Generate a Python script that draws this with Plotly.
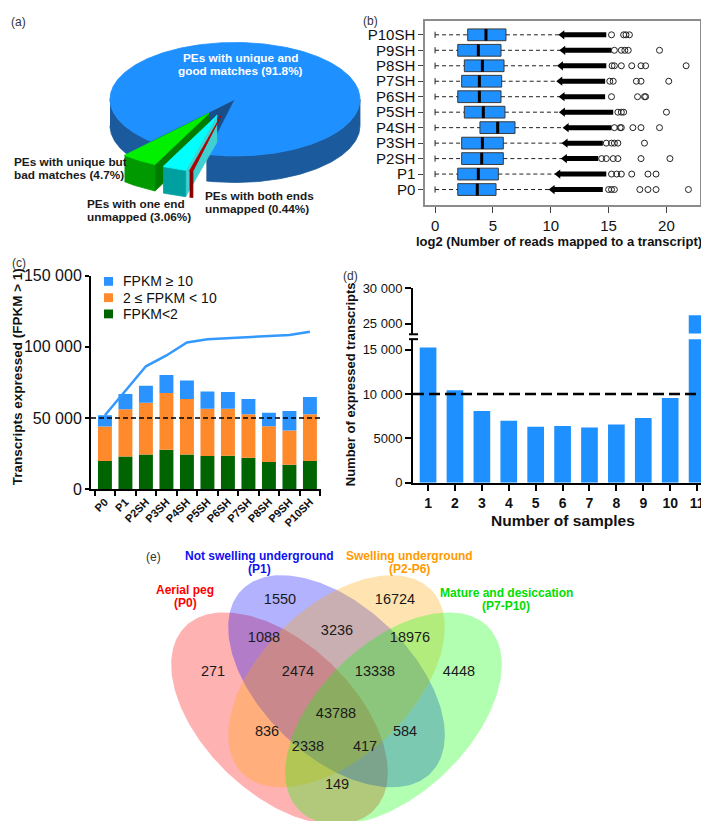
import numpy as np
import plotly.graph_objects as go

W, H = 709, 822
FONT = "Liberation Sans, Arial, sans-serif"

# (a) paired-end read mapping, percent
pie_labels = ["PEs with unique and<br>good matches", "PEs with unique but<br>bad matches",
              "PEs with one end<br>unmapped", "PEs with both ends<br>unmapped"]
pie_pct = [91.8, 4.7, 3.06, 0.44]

# (b) log2(number of reads mapped to a transcript), listed bottom to top
box_samples = ["P0", "P1", "P2SH", "P3SH", "P4SH", "P5SH", "P6SH", "P7SH", "P8SH", "P9SH", "P10SH"]
box_min = [0.0, 0.0, 0.0, 0.0, 0.0, 0.0, 0.0, 0.0, 0.0, 0.0, 0.0]
box_q1 = [1.96, 1.96, 2.30, 2.30, 3.88, 2.53, 1.96, 2.30, 2.53, 1.96, 2.82]
box_med = [3.65, 3.74, 4.03, 4.09, 5.41, 4.17, 3.83, 3.83, 4.09, 3.74, 4.40]
box_q3 = [5.27, 5.47, 5.90, 5.90, 6.91, 6.04, 5.70, 5.76, 5.96, 5.70, 6.13]
box_max = [10.16, 10.65, 11.22, 11.28, 11.37, 11.05, 11.02, 10.82, 10.88, 11.08, 11.00]
# outliers are so dense up to here that they merge into one black run
dense_to = [14.5, 14.8, 14.1, 14.5, 15.25, 15.4, 14.7, 14.7, 14.8, 15.25, 14.8]
outliers = [
    [15.0, 15.25, 15.5, 17.7, 18.4, 19.1, 21.9],   # P0
    [15.25, 15.7, 16.1, 17.0, 18.4, 19.1],         # P1
    [14.4, 14.8, 15.4, 15.8, 17.8, 20.3],          # P2SH
    [14.8, 15.25, 15.5, 15.8, 18.1],               # P3SH
    [15.5, 16.0, 16.1, 17.1, 17.8, 19.4],          # P4SH
    [15.8, 16.1, 16.3, 20.0],                      # P5SH
    [15.25, 17.5, 18.1, 18.2],                     # P6SH
    [15.1, 15.4, 17.4, 17.8, 20.2],                # P7SH
    [15.3, 15.5, 16.1, 17.0, 17.8, 18.2, 21.7],    # P8SH
    [15.5, 16.1, 16.4, 16.7, 19.4],                # P9SH
    [15.25, 16.3, 16.5, 16.8],                     # P10SH
]

# (c) transcripts expressed (FPKM > 1)
stages = ["P0", "P1", "P2SH", "P3SH", "P4SH", "P5SH", "P6SH", "P7SH", "P8SH", "P9SH", "P10SH"]
fpkm_lt2 = [19900, 23100, 24500, 27700, 24500, 23400, 23600, 22200, 19200, 17200, 19900]
fpkm_2_10 = [24100, 33000, 36200, 39900, 38900, 33200, 33000, 30500, 25000, 24000, 32800]
fpkm_ge10 = [8000, 10800, 11900, 12600, 12900, 12100, 11600, 10700, 9600, 13800, 12100]
cumulative = [52000, 69500, 86300, 93900, 103000, 105300, 106000, 106900, 107600, 108300, 110600]

# (d) transcripts expressed in n samples
n_samples = [1, 2, 3, 4, 5, 6, 7, 8, 9, 10, 11]
n_expressed = [15250, 10440, 8090, 6990, 6320, 6400, 6250, 6580, 7320, 9560, 26170]

# (e) Venn of stage groups
venn_sets = ["Aerial peg<br>(P0)", "Not swelling underground<br>(P1)",
             "Swelling underground<br>(P2-P6)", "Mature and desiccation<br>(P7-P10)"]
venn_counts = [271, 1550, 16724, 4448, 1088, 3236, 18976, 2474, 13338, 43788,
               836, 584, 2338, 417, 149]

fig = go.Figure()
notes = []
shapes = []


def note(text, x, y, size=12, color="#111", bold=False, xanchor="center", angle=0, gap=13.5):
    for j, line in enumerate(text.split("<br>")):
        notes.append(dict(text=f"<b>{line}</b>" if bold else line, x=x / W, y=1 - (y + j * gap) / H,
                          xref="paper", yref="paper", showarrow=False, xanchor=xanchor,
                          yanchor="middle", textangle=angle,
                          font=dict(size=size, color=color, family=FONT)))


def thou(v):
    # 10 000 style grouping, but 4-digit numbers stay plain
    return f"{v:,}".replace(",", " ") if v >= 10000 else str(v)


# ---------------- (a) 3-D pie ----------------
cx, cy, rx, ry, depth, pull = 227.0, 85.0, 125.0, 58.0, 27.0, 0.3
start = -103.0
top_col = ["#1E90FF", "#00F000", "#00FFFF", "#B00000"]
side_col = ["#1B5A9C", "#009A00", "#00A0A0", "#8A0000"]
face_col = ["#184E8A", "#007C00", "#40D0D0", "#760000"]

spans = {0: (start, start + 3.6 * pie_pct[0])}
hi = start
for k in (3, 2, 1):
    lo = hi - 3.6 * pie_pct[k]
    spans[k] = (lo, hi)
    hi = lo


def poly(xs, ys, color):
    fig.add_trace(go.Scatter(x=xs, y=ys, mode="lines", fill="toself", fillcolor=color,
                             line=dict(color=color, width=0.8), hoverinfo="skip",
                             showlegend=False, xaxis="x", yaxis="y"))


def rim(t, ox, oy):
    r = np.radians(t)
    return cx + ox + rx * np.cos(r), cy + oy - ry * np.sin(r)


def draw_slice(k, exploded, cut_faces):
    lo, hi = spans[k]
    ox = oy = 0.0
    if exploded:
        mid = np.radians((lo + hi) / 2)
        ox, oy = pull * rx * np.cos(mid) - 5, -pull * ry * np.sin(mid)
    for ang in cut_faces:
        ex, ey = rim(ang, ox, oy)
        poly([cx + ox, ex, ex, cx + ox], [cy + oy, ey, ey + depth, cy + oy + depth], face_col[k])
    # front wall
    for k0 in (-360, 0, 360):
        a, b = max(lo, -180 + k0), min(hi, k0)
        if b > a:
            xs, ys = rim(np.linspace(a, b, 90), ox, oy)
            poly(np.r_[xs, xs[::-1]], np.r_[ys, ys[::-1] + depth], side_col[k])
    xs, ys = rim(np.linspace(lo, hi, max(int((hi - lo) * 2), 6)), ox, oy)
    poly(np.r_[cx + ox, xs, cx + ox], np.r_[cy + oy, ys, cy + oy], top_col[k])


draw_slice(0, False, spans[0])
draw_slice(1, True, (spans[1][1],))
draw_slice(2, True, (spans[2][1],))
draw_slice(3, True, ())

pie_pos = [(232, 42.5, "center", "white"), (4, 149, "left", "#1a1a1a"),
           (77, 192, "left", "#1a1a1a"), (195, 184, "left", "#1a1a1a")]
for lab, p, (x, y, anc, col) in zip(pie_labels, pie_pct, pie_pos):
    note(f"{lab} ({p:g}%)", x, y, 11.8, col, bold=True, xanchor=anc)

# ---------------- (b) box plot ----------------
yi = np.arange(len(box_samples))
q1, q3 = np.array(box_q1), np.array(box_q3)
fig.add_trace(go.Bar(y=yi, x=q3 - q1, base=q1, orientation="h", width=0.76,
                     marker=dict(color="#1E90FF", line=dict(color="#3a3a3a", width=1)),
                     showlegend=False, hoverinfo="skip", xaxis="x2", yaxis="y2"))
wx, wy, cxs, cys, mx, my, bx, by = [], [], [], [], [], [], [], []
for i in yi:
    wx += [box_min[i], box_q1[i], None, box_q3[i], box_max[i], None]
    wy += [i, i, None, i, i, None]
    cxs += [box_min[i], box_min[i], None]
    cys += [i - 0.2, i + 0.2, None]
    mx += [box_med[i], box_med[i], None]
    my += [i - 0.38, i + 0.38, None]
    bx += [box_max[i], dense_to[i], None]
    by += [i, i, None]
fig.add_trace(go.Scatter(x=wx, y=wy, mode="lines", line=dict(color="#222", width=1, dash="4px,3px"),
                         showlegend=False, hoverinfo="skip", xaxis="x2", yaxis="y2"))
fig.add_trace(go.Scatter(x=cxs, y=cys, mode="lines", line=dict(color="#222", width=1),
                         showlegend=False, hoverinfo="skip", xaxis="x2", yaxis="y2"))
fig.add_trace(go.Scatter(x=mx, y=my, mode="lines", line=dict(color="black", width=3),
                         showlegend=False, hoverinfo="skip", xaxis="x2", yaxis="y2"))
fig.add_trace(go.Scatter(x=bx, y=by, mode="lines", line=dict(color="black", width=5),
                         showlegend=False, hoverinfo="skip", xaxis="x2", yaxis="y2"))
fig.add_trace(go.Scatter(x=box_max, y=yi, mode="markers",
                         marker=dict(symbol="triangle-left", size=8, color="black"),
                         showlegend=False, hoverinfo="skip", xaxis="x2", yaxis="y2"))
ox_, oy_ = [], []
for i, vals in enumerate(outliers):
    ox_ += vals
    oy_ += [i] * len(vals)
fig.add_trace(go.Scatter(x=ox_, y=oy_, mode="markers",
                         marker=dict(symbol="circle-open", size=6, color="#222", line=dict(width=1)),
                         showlegend=False, hoverinfo="skip", xaxis="x2", yaxis="y2"))

# ---------------- (c) stacked bars ----------------
c_cols = ["#006400", "#FF8A2B", "#2B93FF"]
c_names = ["FPKM<2", "2 ≤ FPKM < 10", "FPKM ≥ 10"]
base = np.zeros(len(stages))
for vals, col, name in zip([fpkm_lt2, fpkm_2_10, fpkm_ge10], c_cols, c_names):
    fig.add_trace(go.Bar(x=stages, y=vals, base=base.copy(), name=name,
                         marker=dict(color=col, line=dict(width=0)), width=0.68,
                         showlegend=False, xaxis="x3", yaxis="y3"))
    base = base + np.array(vals)
fig.add_trace(go.Scatter(x=stages, y=cumulative, mode="lines", line=dict(color="#3399FF", width=2.5),
                         showlegend=False, hoverinfo="skip", xaxis="x3", yaxis="y3"))
shapes.append(dict(type="line", xref="x3 domain", x0=0, x1=1, yref="y3", y0=50000, y1=50000,
                   line=dict(color="black", width=1.5, dash="5px,3px")))
# legend keys, top entry first
for j, (col, name) in enumerate(zip(c_cols[::-1], c_names[::-1])):
    yc = 271 + j * 16.6
    shapes.append(dict(type="rect", xref="paper", yref="paper", x0=96 / W, x1=105 / W,
                       y0=1 - (yc - 4.5) / H, y1=1 - (yc + 4.5) / H, fillcolor=col, line=dict(width=0)))
    note(name, 113, yc, 14, "#111", xanchor="left")

# ---------------- (d) broken-axis bars ----------------
for ya in ("y4", "y5"):
    fig.add_trace(go.Bar(x=n_samples, y=n_expressed, width=0.62, marker=dict(color="#1E90FF", line=dict(width=0)),
                         showlegend=False, hoverinfo="skip", xaxis="x4", yaxis=ya))
shapes.append(dict(type="line", xref="paper", x0=405 / W, x1=1, yref="y4", y0=10000, y1=10000,
                   line=dict(color="black", width=2.5, dash="11px,5px")))
for yb in (325, 330):
    shapes.append(dict(type="line", xref="paper", yref="paper", x0=401 / W, x1=410 / W,
                       y0=1 - yb / H, y1=1 - yb / H, line=dict(color="black", width=2)))

# ---------------- (e) four-set Venn ----------------
VS, VX, VY = 380.0, 328.5, 571.0   # px per unit, px of u=0.5, px of v=0.855


def vu(px):
    return (px - VX) / VS + 0.5


def vv(py):
    return 0.855 - (py - VY) / VS


venn_center = [(0.35, 0.47), (0.50, 0.57), (0.50, 0.57), (0.65, 0.47)]
venn_tilt = [-45, -45, 45, 45]
venn_fill = ["rgba(255,0,0,0.3)", "rgba(0,0,255,0.3)", "rgba(255,165,0,0.3)", "rgba(0,255,0,0.3)"]
venn_text = ["#FF0000", "#1010F0", "#FF9A00", "#00DD00"]
tt = np.linspace(0, 2 * np.pi, 240)
for (x0, y0), rot, col in zip(venn_center, venn_tilt, venn_fill):
    r = np.radians(rot)
    xs = x0 + 0.35 * np.cos(tt) * np.cos(r) - 0.20 * np.sin(tt) * np.sin(r)
    ys = y0 + 0.35 * np.cos(tt) * np.sin(r) + 0.20 * np.sin(tt) * np.cos(r)
    fig.add_trace(go.Scatter(x=xs, y=ys, mode="lines", fill="toself", fillcolor=col,
                             line=dict(width=0, color=col), showlegend=False, hoverinfo="skip",
                             xaxis="x6", yaxis="y6"))
region_px = [(205, 670), (272, 597), (387, 597), (451, 670), (256, 636), (329, 628), (402, 636),
             (290, 670), (367, 670), (328, 713), (259, 732), (397, 732), (300, 747), (357, 747),
             (329, 786)]
fig.add_trace(go.Scatter(x=[vu(p[0]) for p in region_px], y=[vv(p[1]) for p in region_px],
                         mode="text", text=[str(c) for c in venn_counts],
                         textfont=dict(size=14.5, color="#1a1a1a", family=FONT),
                         showlegend=False, hoverinfo="skip", xaxis="x6", yaxis="y6"))
set_px = [(177, 586), (251, 551), (401, 551), (498, 589)]
for name, (x, y), col in zip(venn_sets, set_px, venn_text):
    note(name, x, y, 12, col, bold=True, gap=13.5)

# ---------------- text ----------------
for lab, x, y in [("(a)", 1, 6), ("(b)", 353, 5), ("(c)", 2, 252), ("(d)", 333, 266), ("(e)", 136, 552)]:
    note(lab, x, y, 12, "#333", xanchor="left")
note("log2 (Number of reads mapped to a transcript)", 551, 230, 13, "#111", bold=True)
note("Transcripts expressed (FPKM > 1)", 9, 369, 13.5, "#111", bold=True, angle=-90)
note("Number of expressed transcripts", 342, 376, 13, "#111", bold=True, angle=-90)
note("Number of samples", 555, 515, 15.5, "#111", bold=True)

axis_k = dict(showgrid=False, zeroline=False, fixedrange=True)
prism = dict(showline=True, linewidth=2, linecolor="black", ticks="outside", tickwidth=2,
             tickcolor="black", **axis_k)
c_ticks = [0, 50000, 100000, 150000]
d_low = [0, 5000, 10000, 15000]
d_high = [25000, 30000]

fig.update_layout(
    width=W, height=H, margin=dict(l=0, r=0, t=0, b=0),
    paper_bgcolor="white", plot_bgcolor="white",
    font=dict(family=FONT, size=12, color="#111"),
    barmode="overlay", showlegend=False,
    xaxis=dict(domain=[0, 360 / W], range=[0, 360], visible=False, **axis_k),
    yaxis=dict(domain=[1 - 230 / H, 1], range=[230, 0], visible=False, **axis_k),
    xaxis2=dict(domain=[417 / W, 692 / W], range=[-0.87, 22.9], anchor="y2", tickvals=[0, 5, 10, 15, 20],
                ticks="outside", ticklen=6, tickcolor="#444", showline=True, mirror=True,
                linecolor="#8c8c8c", linewidth=1.5, tickfont=dict(size=15, color="#111"), **axis_k),
    yaxis2=dict(domain=[1 - 193 / H, 1 - 5 / H], range=[-1, 10.9], anchor="x2", tickvals=list(yi),
                ticktext=box_samples, ticks="outside", ticklen=5, tickcolor="#444", showline=True,
                mirror=True, linecolor="#8c8c8c", linewidth=1.5, tickfont=dict(size=15, color="#111"),
                **axis_k),
    xaxis3=dict(domain=[83 / W, 313 / W], anchor="y3", type="category", range=[-0.68, 10.54],
                tickson="boundaries", ticklen=5, tickangle=-45,
                tickfont=dict(size=11, weight="bold", color="#111"), **prism),
    yaxis3=dict(domain=[1 - 483.3 / H, 1 - 265 / H], anchor="x3", range=[0, 150000],
                tickvals=c_ticks, ticktext=[thou(v) for v in c_ticks], ticklen=4,
                tickfont=dict(size=16, color="#111"), **prism),
    xaxis4=dict(domain=[405 / W, 702 / W], anchor="y4", range=[0.44, 11.48], tickvals=n_samples,
                ticklen=6, tickfont=dict(size=14, weight="bold", color="#111"), **prism),
    yaxis4=dict(domain=[1 - 476.7 / H, 1 - 330 / H], anchor="x4", range=[0, 16190],
                tickvals=d_low, ticktext=[thou(v) for v in d_low], ticklen=6,
                tickfont=dict(size=13, color="#111"), **prism),
    yaxis5=dict(domain=[1 - 324.3 / H, 1 - 278 / H], anchor="x4", range=[23570, 30000],
                tickvals=d_high, ticktext=[thou(v) for v in d_high], ticklen=6,
                tickfont=dict(size=13, color="#111"), **prism),
    xaxis6=dict(domain=[0, 1], range=[vu(0), vu(W)], visible=False, anchor="y6", **axis_k),
    yaxis6=dict(domain=[0, 1 - 530 / H], range=[vv(H), vv(530)], visible=False, anchor="x6", **axis_k),
    annotations=notes, shapes=shapes,
)

fig.write_html("out.html")
